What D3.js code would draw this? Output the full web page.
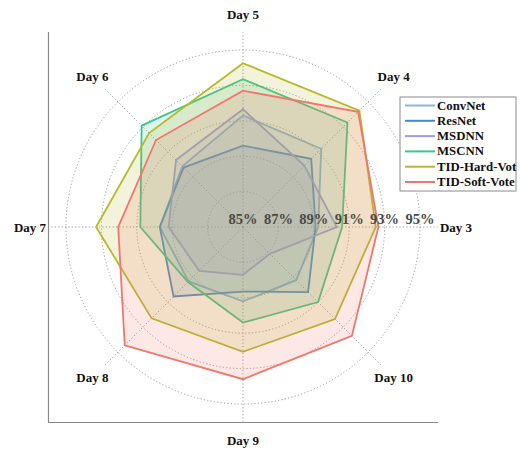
<!DOCTYPE html>
<html>
<head>
<meta charset="utf-8">
<script src="https://cdn.jsdelivr.net/npm/d3@7"></script>
<style>
  html, body { margin: 0; padding: 0; background: #fff; }
  svg { display: block; }
</style>
</head>
<body>
<svg id="chart" width="520" height="451"></svg>
<script>
// Axes of the radar, counter-clockwise starting from the right
const days = ["Day 3", "Day 4", "Day 5", "Day 6", "Day 7", "Day 8", "Day 9", "Day 10"];

// Accuracy (%) per model, in the same order as `days`
const convNet  = [89.25, 91.25, 91.3, 89.85, 89.7, 89.35, 89.2, 89.25];
const resNet   = [89.1, 90.45, 89.6, 89.75, 89.7, 90.55, 88.65, 90.2];
const msdnn    = [90.3, 89.9, 91.65, 90.35, 89.2, 88.5, 87.7, 87.15];
const mscnn    = [90.6, 93.35, 93.35, 93.1, 90.8, 89.4, 90.4, 91.0];
const tidHard  = [92.5, 94.3, 94.25, 92.5, 93.3, 92.3, 92.05, 92.35];
const tidSoft  = [92.65, 94.2, 92.7, 91.95, 92.05, 94.45, 93.6, 93.7];

const seriesNames  = ["ConvNet", "ResNet", "MSDNN", "MSCNN", "TID-Hard-Vot", "TID-Soft-Vote"];
const seriesValues = [convNet, resNet, msdnn, mscnn, tidHard, tidSoft];
const seriesColors = ["#8db5da", "#4a88cc", "#9d9de0", "#3cc68c", "#b6b92c", "#f4756a"];

// Radial tick labels
const tickValues = [85, 87, 89, 91, 93, 95];
const tickLabels = ["85%", "87%", "89%", "91%", "93%", "95%"];
const ringValues = [87, 89, 91, 93, 95];

const svg = d3.select("#chart");
const cx = 243, cy = 227;
const rMax = 177;

const r = d3.scaleLinear().domain([85, 95]).range([0, rMax]);
// d3 radial angle: 0 at 12 o'clock, clockwise. Day 3 sits at 3 o'clock, axes go counter-clockwise.
const angle = d3.scaleLinear().domain([0, days.length]).range([Math.PI / 2, Math.PI / 2 - 2 * Math.PI]);

const pt = (i, rad) => {
  const a = angle(i);
  return [cx + rad * Math.sin(a), cy - rad * Math.cos(a)];
};

// Left / bottom frame lines
svg.append("line").attr("x1", 48.5).attr("y1", 32).attr("x2", 48.5).attr("y2", 422.5)
  .attr("stroke", "#8a8a8a").attr("stroke-width", 1.2);
svg.append("line").attr("x1", 48).attr("y1", 422.5).attr("x2", 438).attr("y2", 422.5)
  .attr("stroke", "#8a8a8a").attr("stroke-width", 1.2);

const g = svg.append("g");

// Grid rings
g.selectAll("circle.ring").data(ringValues).join("circle")
  .attr("class", "ring")
  .attr("cx", cx).attr("cy", cy)
  .attr("r", d => r(d))
  .attr("fill", "none")
  .attr("stroke", "#9a9a9a")
  .attr("stroke-width", 1)
  .attr("stroke-dasharray", "1.2,2.2");

// Spokes
g.selectAll("line.spoke").data(days).join("line")
  .attr("class", "spoke")
  .attr("x1", cx).attr("y1", cy)
  .attr("x2", (d, i) => pt(i, rMax * 1.1)[0])
  .attr("y2", (d, i) => pt(i, rMax * 1.1)[1])
  .attr("stroke", "#9a9a9a")
  .attr("stroke-width", 1)
  .attr("stroke-dasharray", "1.2,2.2");

// Series polygons
const radial = d3.lineRadial()
  .angle((d, i) => angle(i))
  .radius(d => r(d))
  .curve(d3.curveLinearClosed);

const polys = g.append("g").attr("transform", `translate(${cx},${cy})`);
seriesValues.forEach((vals, k) => {
  polys.append("path")
    .attr("d", radial(vals))
    .attr("fill", seriesColors[k])
    .attr("fill-opacity", 0.17)
    .attr("stroke", seriesColors[k])
    .attr("stroke-width", 1.8)
    .attr("stroke-linejoin", "miter");
});

// Radial tick labels along the Day 3 axis
g.selectAll("text.tick").data(tickValues).join("text")
  .attr("class", "tick")
  .attr("x", d => cx + r(d))
  .attr("y", cy - 3)
  .attr("text-anchor", "middle")
  .attr("font-family", "'Liberation Serif', 'Times New Roman', serif")
  .attr("font-weight", "bold")
  .attr("font-size", 14.5)
  .attr("fill", "#4a4a42")
  .text((d, i) => tickLabels[i]);

// Axis labels
g.selectAll("text.day").data(days).join("text")
  .attr("class", "day")
  .attr("x", (d, i) => pt(i, 213)[0])
  .attr("y", (d, i) => pt(i, 213)[1])
  .attr("text-anchor", "middle")
  .attr("dominant-baseline", "central")
  .attr("font-family", "'Liberation Serif', 'Times New Roman', serif")
  .attr("font-weight", "bold")
  .attr("font-size", 13)
  .attr("fill", "#111")
  .text(d => d);

// Legend
const lg = svg.append("g").attr("transform", "translate(400,97)");
lg.append("rect").attr("x", 0).attr("y", 0).attr("width", 116).attr("height", 94)
  .attr("fill", "#fff").attr("stroke", "#8a8a8a").attr("stroke-width", 1);
seriesNames.forEach((name, k) => {
  const y = 8.5 + k * 15.3;
  lg.append("line").attr("x1", 5).attr("x2", 35).attr("y1", y).attr("y2", y)
    .attr("stroke", seriesColors[k]).attr("stroke-width", 2);
  lg.append("text").attr("x", 37).attr("y", y)
    .attr("dominant-baseline", "central")
    .attr("font-family", "'Liberation Serif', 'Times New Roman', serif")
    .attr("font-weight", "bold")
    .attr("font-size", 12.8)
    .attr("fill", "#111")
    .text(name);
});
</script>
</body>
</html>
